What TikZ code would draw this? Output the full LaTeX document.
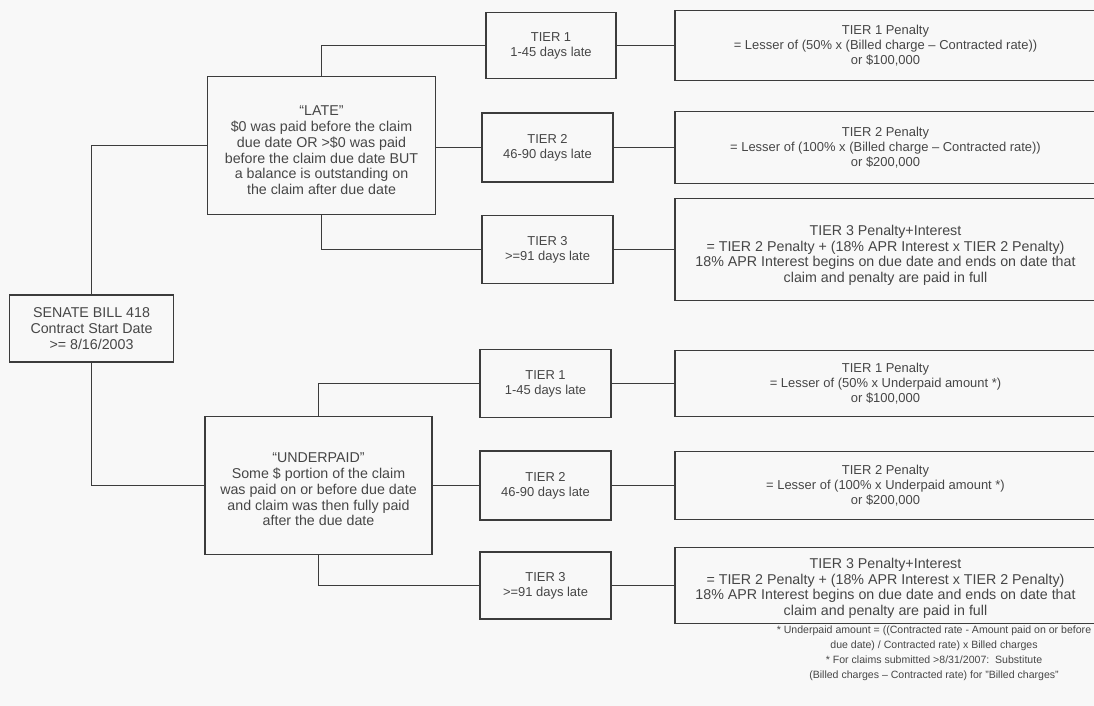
\documentclass[tikz,border=0pt]{standalone}
\usepackage{fontspec}
\setmainfont{Liberation Sans}
\definecolor{ink}{RGB}{60,60,60}
\definecolor{txt}{RGB}{70,70,70}
\definecolor{paper}{RGB}{248,248,248}
\begin{document}
\begin{tikzpicture}[x=1bp,y=-1bp,
  box/.style={draw=ink,line width=1.7bp,rectangle,align=center,inner sep=2pt,
    text=txt,font=\fontsize{13}{15}\selectfont},
  bigtxt/.style={align=center,inner sep=0pt,text=txt,font=\fontsize{14.3}{15.8}\selectfont},
  p3txt/.style={align=center,inner sep=0pt,text=txt,font=\fontsize{14.3}{15.6}\selectfont},
  conn/.style={draw=ink,line width=1.7bp}]
\fill[paper] (0,0) rectangle (1094,706);
\useasboundingbox (0,0) rectangle (1094,706);

\node[box,minimum width=164bp,minimum height=67bp,font=\fontsize{14.3}{15.8}\selectfont] (sen) at (91.5,328.5)
  {SENATE BILL 418\\Contract Start Date\\>= 8/16/2003};

\node[box,minimum width=228bp,minimum height=138bp] (late) at (321.5,145.5) {};
\node[bigtxt] (lateTxt) at ([yshift=-5bp]late.center)
  {“LATE”\\\$0 was paid before the claim\\due date OR >\$0 was paid\\before the claim due date BUT\\a balance is outstanding on\\the claim after due date};
\node[box,minimum width=227bp,minimum height=138bp] (under) at (318.5,485.5) {};
\node[bigtxt] (underTxt) at ([yshift=-4bp]under.center)
  {“UNDERPAID”\\Some \$ portion of the claim\\was paid on or before due date\\and claim was then fully paid\\after the due date};

\node[box,minimum width=130bp,minimum height=66bp] (uT1) at (551,45.5) {TIER 1\\1-45 days late};
\node[box,minimum width=131bp,minimum height=69bp] (uT2) at (547.5,147.5) {TIER 2\\46-90 days late};
\node[box,minimum width=131bp,minimum height=68bp] (uT3) at (547.5,249.5) {TIER 3\\>=91 days late};
\node[box,minimum width=131bp,minimum height=68bp] (lT1) at (545.5,383.5) {TIER 1\\1-45 days late};
\node[box,minimum width=131bp,minimum height=69bp] (lT2) at (545.5,485.5) {TIER 2\\46-90 days late};
\node[box,minimum width=131bp,minimum height=67bp] (lT3) at (545.5,585.5) {TIER 3\\>=91 days late};

\node[box,minimum width=421bp,minimum height=70bp] (uP1) at (885.5,45.5)
  {TIER 1 Penalty\\= Lesser of (50\% x (Billed charge – Contracted rate))\\or \$100,000};
\node[box,minimum width=421bp,minimum height=72bp] (uP2) at (885.5,147.5)
  {TIER 2 Penalty\\= Lesser of (100\% x (Billed charge – Contracted rate))\\or \$200,000};
\node[box,minimum width=421bp,minimum height=102bp] (uP3) at (885.5,249.5) {};
\node[p3txt] (uP3Txt) at ([yshift=-6bp]uP3.center)
  {TIER 3 Penalty+Interest\\= TIER 2 Penalty + (18\% APR Interest x TIER 2 Penalty)\\18\% APR Interest begins on due date and ends on date that\\claim and penalty are paid in full};
\node[box,minimum width=421bp,minimum height=66bp] (lP1) at (885.5,383.5)
  {TIER 1 Penalty\\= Lesser of (50\% x Underpaid amount *)\\or \$100,000};
\node[box,minimum width=421bp,minimum height=68bp] (lP2) at (885.5,485.5)
  {TIER 2 Penalty\\= Lesser of (100\% x Underpaid amount *)\\or \$200,000};
\node[box,minimum width=421bp,minimum height=76bp] (lP3) at (885.5,585.5) {};
\node[p3txt] (lP3Txt) at ([yshift=-3bp]lP3.center)
  {TIER 3 Penalty+Interest\\= TIER 2 Penalty + (18\% APR Interest x TIER 2 Penalty)\\18\% APR Interest begins on due date and ends on date that\\claim and penalty are paid in full};

\node[align=center,text=txt,font=\fontsize{10.6}{15}\selectfont,anchor=north,inner sep=0pt] (note) at (934,626)
  {* Underpaid amount = ((Contracted rate - Amount paid on or before\\due date) / Contracted rate) x Billed charges\\* For claims submitted >8/31/2007:\ \ Substitute\\(Billed charges – Contracted rate) for "Billed charges"};

\draw[conn] (sen.north) |- (late.west);
\draw[conn] (sen.south) |- (under.west);
\draw[conn] (late.north) |- (uT1.west);
\draw[conn] (late.east |- uT2.west) -- (uT2.west);
\draw[conn] (late.south) |- (uT3.west);
\draw[conn] (under.north) |- (lT1.west);
\draw[conn] (under.east |- lT2.west) -- (lT2.west);
\draw[conn] (under.south) |- (lT3.west);
\draw[conn] (uT1.east) -- (uP1.west);
\draw[conn] (uT2.east) -- (uP2.west);
\draw[conn] (uT3.east) -- (uP3.west);
\draw[conn] (lT1.east) -- (lP1.west);
\draw[conn] (lT2.east) -- (lP2.west);
\draw[conn] (lT3.east) -- (lP3.west);
\end{tikzpicture}
\end{document}
